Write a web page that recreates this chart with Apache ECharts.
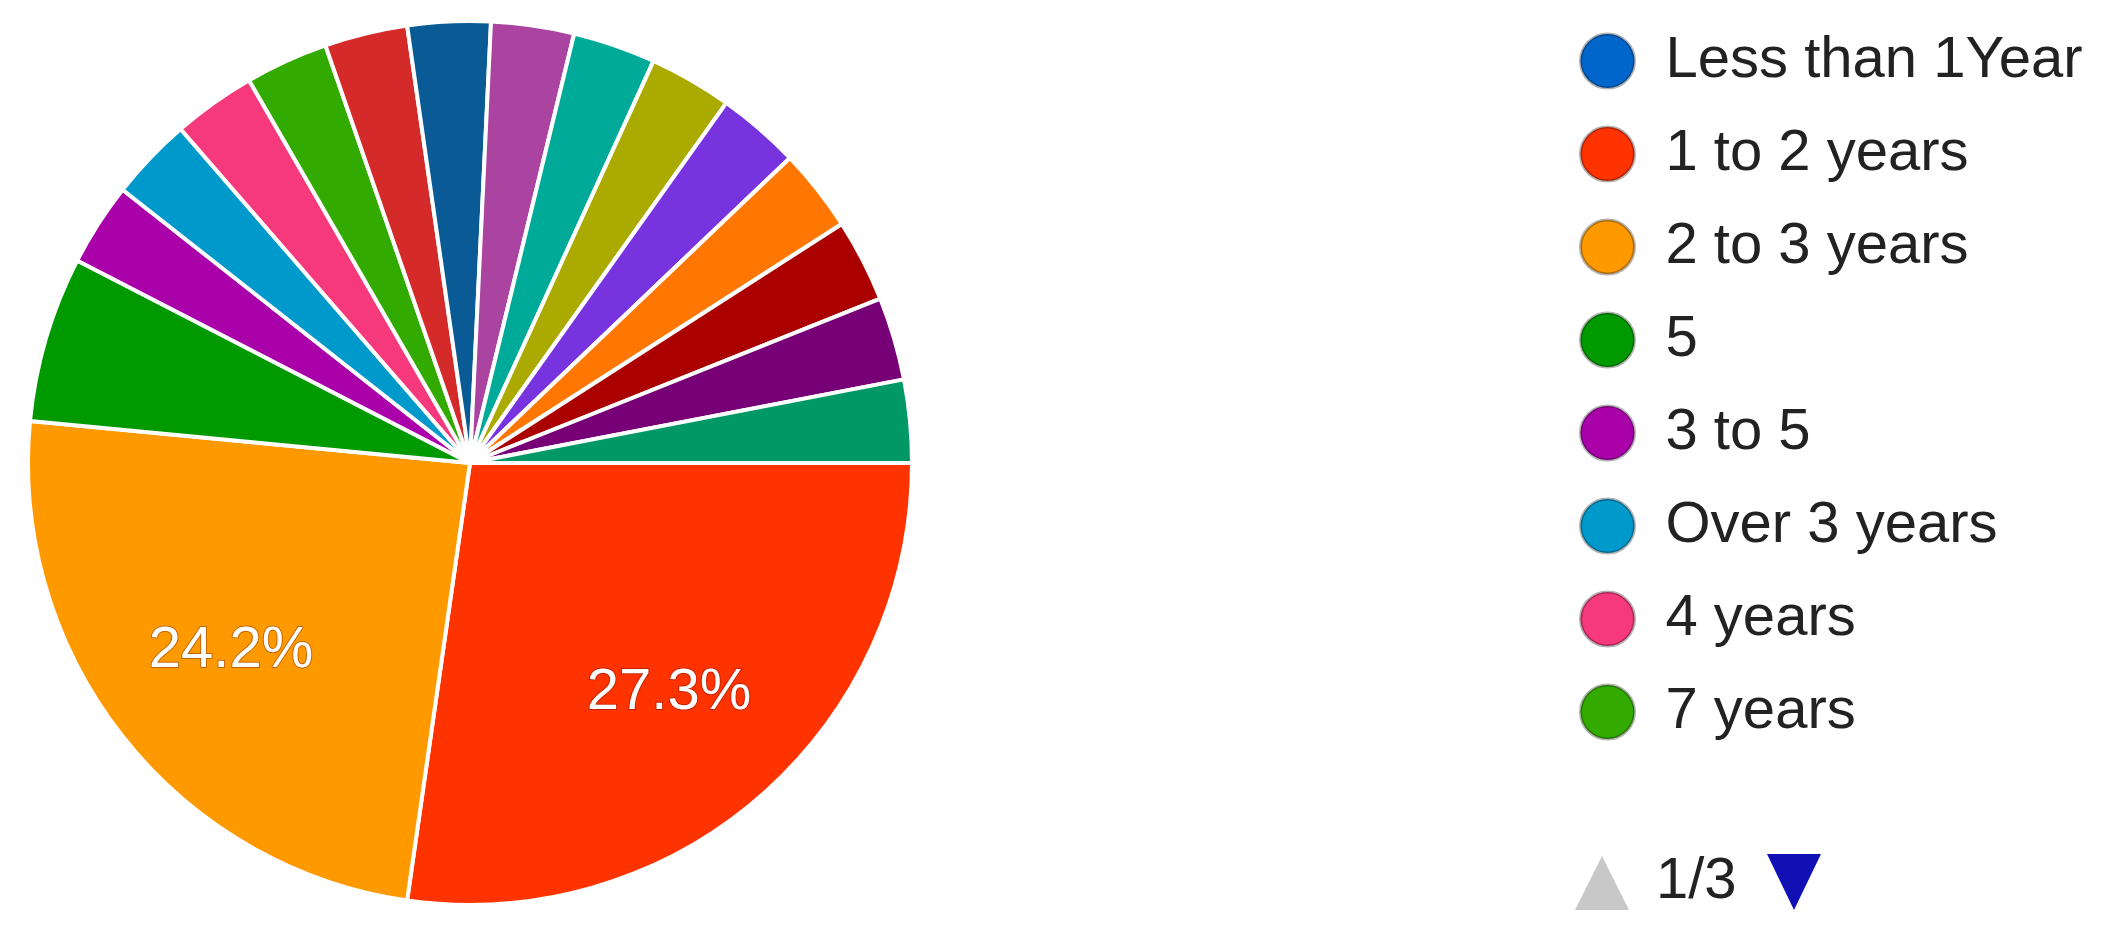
<!DOCTYPE html>
<html>

<head>
	<meta charset="utf-8">
	<title>Years of experience</title>
	<script src="https://cdn.jsdelivr.net/npm/echarts@6/dist/echarts.min.js"></script>
	<style>
		html, body { margin: 0; padding: 0; background: #fff; }
	</style>
</head>

<body>
	<div id="main" style="width: 2106px; height: 939px;"></div>
	<script type="text/javascript">
		// categories (legend order = slice order)
		var names = [
			'Less than 1Year', '1 to 2 years', '2 to 3 years', '5', '3 to 5',
			'Over 3 years', '4 years', '7 years',
			// page 2 / 3 of the legend (not visible in the picture)
			'6 years', '8 years', '10 years', '6', 'More than 5 years',
			'2', '4', '9 years', '10', 'Over 5 years'
		];
		// number of answers per category
		var counts = [0, 9, 8, 2, 1, 1, 1, 1, 1, 1, 1, 1, 1, 1, 1, 1, 1, 1];
		// slice colours
		var colors = [
			'#0066cc', '#ff3300', '#ff9900', '#009900', '#aa00aa',
			'#0099cc', '#f5397a', '#33aa00', '#d42a2a', '#0a5a96',
			'#aa44a0', '#00aa99', '#aaaa00', '#7733dd', '#ff7700',
			'#aa0000', '#770077', '#009966'
		];
		var pageSize = 8;

		var chart = echarts.init(document.getElementById('main'));
		var font = '"Liberation Sans", Arial, sans-serif';

		var pieData = [];
		for (var i = 0; i < names.length; i++) {
			pieData.push({ name: names[i], value: counts[i] });
		}
		var pageCount = Math.ceil(names.length / pageSize);

		var option = {
			backgroundColor: '#fff',
			color: colors,
			tooltip: {
				trigger: 'item',
				formatter: '{b}: {c} ({d}%)'
			},
			legend: {
				orient: 'vertical',
				left: 1574,
				top: 27,
				icon: 'circle',
				itemWidth: 54,
				itemHeight: 54,
				itemGap: 35,
				data: names.slice(0, pageSize),
				itemStyle: {
					borderColor: 'rgba(0,0,0,0.3)',
					borderWidth: 3
				},
				textStyle: {
					fontFamily: font,
					fontSize: 58,
					lineHeight: 58,
					color: '#222',
					padding: [0, 0, 0, 26]
				}
			},
			// legend pager (page 1 of n)
			graphic: [{
				type: 'polygon',
				x: 1575,
				y: 856,
				shape: { points: [[0, 54], [27, 0], [54, 54]] },
				style: { fill: '#c8c8c8' }
			}, {
				type: 'text',
				x: 1656,
				y: 882,
				style: {
					text: '1/' + pageCount,
					font: '58px ' + font,
					fill: '#222',
					verticalAlign: 'middle'
				}
			}, {
				type: 'polygon',
				x: 1767,
				y: 854,
				shape: { points: [[0, 0], [54, 0], [27, 56]] },
				style: { fill: '#1010b4' }
			}],
			series: [{
				name: 'Experience',
				type: 'pie',
				center: [470, 463],
				radius: [0, 442],
				startAngle: 0,
				clockwise: true,
				avoidLabelOverlap: false,
				itemStyle: {
					borderColor: '#fff',
					borderWidth: 4
				},
				label: { show: false },
				labelLine: { show: false },
				emphasis: { scale: false },
				data: pieData
			}, {
				// transparent ring only used to place the percentage labels
				name: 'labels',
				type: 'pie',
				center: [470, 463],
				radius: [160, 442],
				startAngle: 0,
				clockwise: true,
				silent: true,
				legendHoverLink: false,
				tooltip: { show: false },
				avoidLabelOverlap: false,
				itemStyle: { color: 'rgba(0,0,0,0)', borderWidth: 0 },
				label: {
					show: true,
					position: 'inside',
					fontFamily: font,
					fontSize: 58,
					color: '#fff',
					textBorderColor: 'rgba(90,0,0,0.35)',
					textBorderWidth: 2,
					formatter: function (p) {
						return p.percent >= 10 ? p.percent.toFixed(1) + '%' : '';
					}
				},
				labelLine: { show: false },
				emphasis: { disabled: true },
				data: pieData
			}]
		};
		chart.setOption(option);
	</script>
</body>

</html>
